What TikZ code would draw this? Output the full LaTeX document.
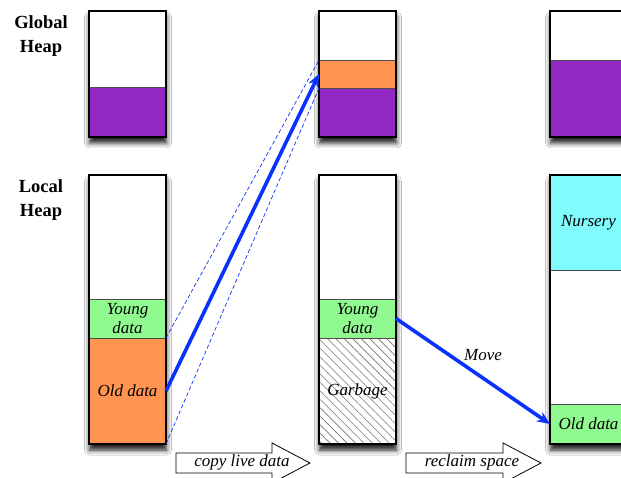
\documentclass[tikz,border=0pt]{standalone}
\usepackage{fontspec}
\setmainfont{Liberation Serif}
\usetikzlibrary{arrows.meta,shadows.blur,patterns.meta}
\definecolor{heappurple}{RGB}{147,41,194}
\definecolor{heaporange}{RGB}{255,149,81}
\definecolor{heapgreen}{RGB}{144,250,144}
\definecolor{heapcyan}{RGB}{128,252,255}
\definecolor{arrowblue}{RGB}{10,50,255}
\tikzset{
  frame/.style={fill=white,minimum width=77pt,inner sep=0pt,outer sep=0pt,anchor=north west,
    blur shadow={shadow xshift=0.5pt,shadow yshift=-6pt,shadow blur radius=5pt,shadow opacity=90}},
  border/.style={draw=black,line width=1.6pt},
  seg/.style={draw=black!70,line width=0.8pt,minimum width=77pt,inner sep=0pt,outer sep=0pt,anchor=north west,
    font=\fontsize{17}{19}\selectfont\itshape,align=center},
  segtext/.style={font=\fontsize{17}{19}\selectfont\itshape,align=center,inner sep=0pt},
  heaplabel/.style={font=\fontsize{18.5}{23.5}\selectfont\bfseries,align=center},
  bigarrow/.style={arrowblue,line width=3.6pt,-{Stealth[length=13pt,width=11pt]}},
  dashlink/.style={arrowblue,line width=0.7pt,dash pattern=on 4pt off 2.5pt},
  blockarrow/.style={draw=black,line width=0.8pt,fill=white},
  arrowtext/.style={font=\fontsize{17}{19}\selectfont\itshape}
}
\begin{document}
\begin{tikzpicture}[x=1pt,y=-1pt]
\clip (0,0) rectangle (621,478);
\fill[white] (0,0) rectangle (621,478);

% labels
\node[heaplabel] (glab) at (41,36) {Global\\Heap};
\node[heaplabel] (llab) at (41,200) {Local\\Heap};

% frames (with shadows)
\node[frame,minimum height=126pt] (g1) at (89,11) {};
\node[frame,minimum height=126pt] (g2) at (319,11) {};
\node[frame,minimum height=126pt] (g3) at (550,11) {};
\node[frame,minimum height=269pt] (l1) at (89,175) {};
\node[frame,minimum height=269pt] (l2) at (319,175) {};
\node[frame,minimum height=269pt] (l3) at (550,175) {};

% global heap segments
\node[seg,fill=heappurple,minimum height=50pt] (gp1) at (89,87) {};
\node[seg,fill=heaporange,minimum height=28pt] (go2) at (319,60) {};
\node[seg,fill=heappurple,minimum height=49pt] (gp2) at (319,88) {};
\node[seg,fill=heappurple,minimum height=77pt] (gp3) at (550,60) {};

% local heap segments
\node[seg,fill=heapgreen,minimum height=39pt] (y1) at (89,299) {Young\\data};
\node[seg,fill=heaporange,minimum height=106pt] (o1) at (89,338) {Old data};
\node[seg,fill=heapgreen,minimum height=39pt] (y2) at (319,299) {Young\\data};
\node[seg,pattern={Lines[angle=-45,distance=6pt,line width=0.6pt]},pattern color=black!55,minimum height=106pt] (gb2) at (319,338) {};
\node[segtext] (gbt) at (gb2.center) {Garbage};
\node[seg,fill=heapcyan,minimum height=95pt] (n3) at (550,175) {Nursery};
\node[seg,fill=heapgreen,minimum height=40pt] (o3) at (550,404) {Old data};

% borders
\foreach \b in {g1,g2,g3,l1,l2,l3}
  \draw[border] (\b.north west) rectangle (\b.south east);

% copy arrow and dashed guides
\draw[dashlink] (o1.north east) -- (go2.north west);
\draw[dashlink] (o1.south east) -- (go2.south west);
\draw[bigarrow] (o1.east) -- (go2.west);

% move arrow
\draw[bigarrow] (y2.east) -- (o3.west);
\node[arrowtext] (mv) at (483,355) {Move};

% block arrows
\draw[blockarrow] (176,453) -- (272,453) -- (272,443) -- (310,463) -- (272,483) -- (272,473) -- (176,473) -- cycle;
\node[arrowtext] (cp) at (242,462) {copy live data};
\draw[blockarrow] (406,453) -- (503,453) -- (503,443) -- (541,463) -- (503,483) -- (503,473) -- (406,473) -- cycle;
\node[arrowtext] (rc) at (472,462) {reclaim space};
\end{tikzpicture}
\end{document}
